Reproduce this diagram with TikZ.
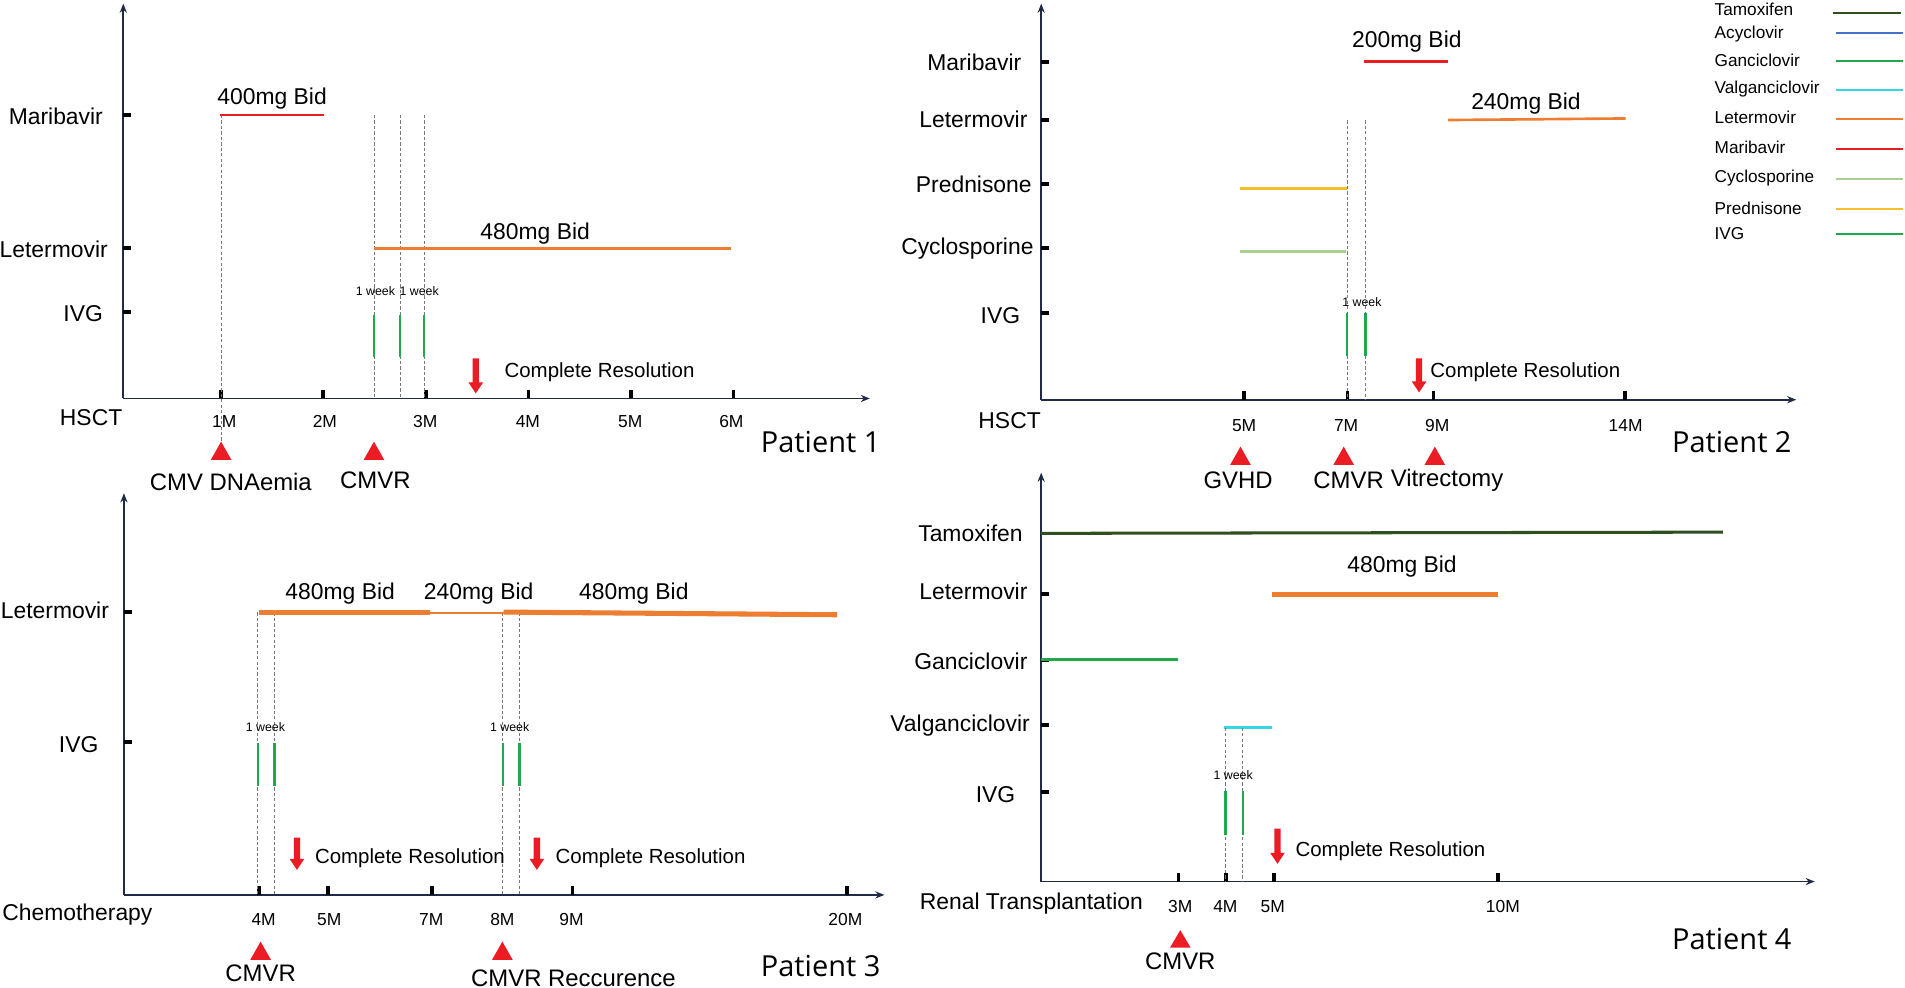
\documentclass[tikz,border=0pt]{standalone}
\usepackage{fontspec}
\setmainfont{Liberation Sans}
\newfontfamily\titlefont{Open Sans}
\usetikzlibrary{arrows.meta}
\definecolor{axiscol}{RGB}{31,42,68}
\definecolor{redc}{RGB}{236,28,36}
\definecolor{orangec}{RGB}{237,125,49}
\definecolor{greenc}{RGB}{34,168,76}
\definecolor{tamc}{RGB}{47,79,30}
\definecolor{cyanc}{RGB}{51,214,228}
\definecolor{lgreenc}{RGB}{169,208,142}
\definecolor{yellowc}{RGB}{246,190,40}
\definecolor{bluec}{RGB}{68,114,196}
\definecolor{dashc}{RGB}{120,120,120}
\tikzset{
  axisline/.style={draw=axiscol,line width=0.9pt,-{Stealth[length=4.5pt,width=3.5pt]}},
  ytk/.style={draw=black,line width=2pt},
  xtk/.style={draw=black,line width=1.7pt},
  guide/.style={draw=dashc,line width=0.4pt,dash pattern=on 1.6pt off 1.1pt},
  ivgbar/.style={draw=greenc,line width=1.1pt},
  lab/.style={font=\fontsize{11.3}{13}\selectfont,inner sep=0pt},
  evlab/.style={font=\fontsize{11.8}{14}\selectfont,inner sep=0pt},
  tklab/.style={font=\fontsize{8.6}{10}\selectfont,inner sep=0pt},
  wk/.style={font=\fontsize{6.1}{7}\selectfont,inner sep=0pt},
  res/.style={font=\fontsize{10.1}{12}\selectfont,inner sep=0pt,anchor=west},
  ptitle/.style={font=\titlefont\fontsize{14.3}{17}\selectfont,inner sep=0pt,anchor=west},
  leg/.style={font=\fontsize{8.5}{10}\selectfont,inner sep=0pt,anchor=west},
  legline/.style={line width=1pt},
}
\newcommand{\evtri}[3]{\fill[redc] (#1-8.5,#2) -- (#1+8.5,#2) -- (#1,#3) -- cycle;}
\newcommand{\resarrow}[3]{\fill[redc] (#1-2.6,#2) -- (#1+2.6,#2) -- (#1+2.6,#3-9) -- (#1+6,#3-9) -- (#1,#3) -- (#1-6,#3-9) -- (#1-2.6,#3-9) -- cycle;}
\begin{document}
\begin{tikzpicture}[x=0.6pt,y=-0.6pt]
\useasboundingbox (0,0) rectangle (1568,813.2);

% ================= Patient 1 =================
\coordinate (p1o) at (101.5,328);
\draw[axisline] (p1o) -- (101.5,3);
\draw[axisline] (p1o) -- (716,328);
\foreach \y in {94.6,204.4,256.5} \draw[ytk] (101.5,\y) -- (108,\y);
\node[lab,anchor=east] (p1mar) at (85,96) {Maribavir};
\node[lab,anchor=east] (p1let) at (89,205) {Letermovir};
\node[lab,anchor=east] (p1ivg) at (85,258) {IVG};
\foreach \x in {182,265.9,350.7,435,519.3,603.6} \draw[xtk] (\x,328) -- (\x,321);
\node[tklab] (p1t1) at (184.6,347) {1M};
\node[tklab] (p1t2) at (267.4,347) {2M};
\node[tklab] (p1t3) at (350,347) {3M};
\node[tklab] (p1t4) at (434.5,347) {4M};
\node[tklab] (p1t5) at (518.8,347) {5M};
\node[tklab] (p1t6) at (602,347) {6M};
\node[lab] (p1h) at (75,344) {HSCT};
% guides
\foreach \x in {307.8,329.2,349.2} \draw[guide] (\x,94.6) -- (\x,328);
\draw[guide] (182,94.6) -- (182,365);
% drugs
\draw[redc,line width=1.3pt] (181,94.6) -- (267,94.6);
\node[lab] (p1d1) at (224,81.5) {400mg Bid};
\draw[orangec,line width=1.3pt] (307.8,204.7) -- (602,204.7);
\node[lab] (p1d2) at (440.5,192) {480mg Bid};
\foreach \x in {307.8,329,349} \draw[ivgbar] (\x,259) -- (\x,293.6);
\node[wk] (p1w1) at (309,240) {1 week};
\node[wk] (p1w2) at (345,240) {1 week};
\resarrow{391.6}{295}{323.8}
\node[res] (p1r) at (415,306.7) {Complete Resolution};
\evtri{182}{378.6}{363.5}
\evtri{307.8}{378.6}{363.5}
\node[evlab] (p1e1) at (190,396.4) {CMV DNAemia};
\node[evlab] (p1e2) at (309,395) {CMVR};
\node[ptitle] (p1n) at (626,363.5) {Patient 1};

% ================= Patient 2 =================
\coordinate (p2o) at (857,329);
\draw[axisline] (p2o) -- (857,3);
\draw[axisline] (p2o) -- (1478.5,329);
\foreach \y in {50.8,98.8,151.7,204.4,257.4} \draw[ytk] (857,\y) -- (863.5,\y);
\node[lab,anchor=east] (p2mar) at (841,51) {Maribavir};
\node[lab,anchor=east] (p2let) at (846,98) {Letermovir};
\node[lab,anchor=east] (p2pre) at (849.5,152) {Prednisone};
\node[lab,anchor=east] (p2cyc) at (851,205) {Cyclosporine};
\node[lab,anchor=east] (p2ivg) at (840,260) {IVG};
\foreach \x in {1024,1109,1180,1337.5} \draw[xtk] (\x,329) -- (\x,322);
\node[tklab] (p2t1) at (1024,350) {5M};
\node[tklab] (p2t2) at (1108,350) {7M};
\node[tklab] (p2t3) at (1183,350) {9M};
\node[tklab] (p2t4) at (1338,350) {14M};
\node[lab] (p2h) at (831,346) {HSCT};
\foreach \x in {1109,1124} \draw[guide] (\x,99) -- (\x,329);
\draw[redc,line width=1.3pt] (1123,50.8) -- (1192,50.8);
\node[lab] (p2d1) at (1158,34) {200mg Bid};
\draw[orangec,line width=1.3pt] (1192,98.8) -- (1338,97.5);
\node[lab] (p2d2) at (1256,85) {240mg Bid};
\draw[yellowc,line width=1.2pt] (1021,155) -- (1109,155);
\draw[lgreenc,line width=1.2pt] (1021,207) -- (1108,207);
\foreach \x in {1109,1124} \draw[ivgbar] (\x,258) -- (\x,293);
\node[wk] (p2w) at (1121,249) {1 week};
\resarrow{1168}{295}{323}
\node[res] (p2r) at (1177,306) {Complete Resolution};
\evtri{1021}{382.7}{367.6}
\evtri{1106}{382.7}{367.6}
\evtri{1181}{382.7}{367.6}
\node[evlab] (p2e1) at (1019,395) {GVHD};
\node[evlab] (p2e2) at (1110,395) {CMVR};
\node[evlab] (p2e3) at (1191,395) {Vitrectomy};
\node[ptitle] (p2n) at (1376,363.5) {Patient 2};

% legend
\foreach \t/\y in {Tamoxifen/8, Acyclovir/28, Ganciclovir/49.5, Valganciclovir/73, Letermovir/97, Maribavir/121, Cyclosporine/146.5, Prednisone/171.5, IVG/192.3}{
  \node[leg] (lg\t) at (1411,\y) {\t};
}
\draw[legline,tamc] (1509,11) -- (1565,11);
\draw[legline,bluec] (1511,27.5) -- (1566,27.5);
\draw[legline,greenc] (1511,50.5) -- (1566,50.5);
\draw[legline,cyanc] (1511,74) -- (1566,74);
\draw[legline,orangec] (1511,98) -- (1566,98);
\draw[legline,redc] (1511,123) -- (1566,123);
\draw[legline,lgreenc] (1511,147) -- (1566,147);
\draw[legline,yellowc] (1511,172) -- (1566,172);
\draw[legline,greenc] (1511,192.6) -- (1566,192.6);

% ================= Patient 3 =================
\coordinate (p3o) at (102,736.6);
\draw[axisline] (p3o) -- (102,406);
\draw[axisline] (p3o) -- (728,736.6);
\foreach \y in {504,610.4} \draw[ytk] (102,\y) -- (108.5,\y);
\node[lab,anchor=east] (p3let) at (90,502) {Letermovir};
\node[lab,anchor=east] (p3ivg) at (81.3,613) {IVG};
\foreach \x in {213,270,355.7,471.4,697.3} \draw[xtk] (\x,736.6) -- (\x,729.6);
\node[tklab] (p3t1) at (217,757) {4M};
\node[tklab] (p3t2) at (271,757) {5M};
\node[tklab] (p3t3) at (355,757) {7M};
\node[tklab] (p3t4) at (413.5,757) {8M};
\node[tklab] (p3t5) at (470.4,757) {9M};
\node[tklab] (p3t6) at (695.8,757) {20M};
\node[lab] (p3h) at (63.7,753) {Chemotherapy};
\foreach \x in {212,226,413.5,427.5} \draw[guide] (\x,504) -- (\x,736.6);
\draw[orangec,line width=2.5pt] (213,504) -- (354,504);
\draw[orangec,line width=1pt] (354,504.6) -- (414.5,504.6);
\draw[orangec,line width=2.5pt] (414.5,503.8) -- (689,506);
\node[lab] (p3d1) at (280,488.3) {480mg Bid};
\node[lab] (p3d2) at (394,488.3) {240mg Bid};
\node[lab] (p3d3) at (521.7,488.3) {480mg Bid};
\foreach \x in {212.5,226,414,427.5} \draw[ivgbar] (\x,611.6) -- (\x,647);
\node[wk] (p3w1) at (218.5,598.5) {1 week};
\node[wk] (p3w2) at (419.5,598.5) {1 week};
\resarrow{244.4}{689.5}{716}
\resarrow{441.9}{689.5}{716}
\node[res] (p3r1) at (259,706) {Complete Resolution};
\node[res] (p3r2) at (457,706) {Complete Resolution};
\evtri{214.5}{790}{775}
\evtri{413.5}{790}{775}
\node[evlab] (p3e1) at (214.5,801) {CMVR};
\node[evlab] (p3e2) at (472,805) {CMVR Reccurence};
\node[ptitle] (p3n) at (626,795) {Patient 3};

% ================= Patient 4 =================
\coordinate (p4o) at (857,725.6);
\draw[axisline] (p4o) -- (857,389);
\draw[axisline] (p4o) -- (1493.7,725.6);
\foreach \y in {489,543.2,597,651.6} \draw[ytk] (857,\y) -- (863.5,\y);
\node[lab,anchor=east] (p4tam) at (842,439) {Tamoxifen};
\node[lab,anchor=east] (p4let) at (846,487) {Letermovir};
\node[lab,anchor=east] (p4gan) at (846,544) {Ganciclovir};
\node[lab,anchor=east] (p4val) at (848,597) {Valganciclovir};
\node[lab,anchor=east] (p4ivg) at (836,654) {IVG};
\foreach \x in {970,1009,1048.5,1233} \draw[xtk] (\x,725.6) -- (\x,718.6);
\node[tklab] (p4t1) at (971.5,746) {3M};
\node[tklab] (p4t2) at (1008.6,746) {4M};
\node[tklab] (p4t3) at (1047.6,746) {5M};
\node[tklab] (p4t4) at (1237,746) {10M};
\node[lab,anchor=east] (p4h) at (941,744) {Renal Transplantation};
\draw[tamc,line width=1.5pt] (857,439) -- (1418,438);
\draw[orangec,line width=2.4pt] (1046.6,489) -- (1233,489);
\node[lab] (p4d1) at (1154,466) {480mg Bid};
\draw[greenc,line width=1.2pt] (857,543) -- (970,543);
\draw[cyanc,line width=1.4pt] (1007.6,599) -- (1046.6,599);
\foreach \x in {1008.6,1023} \draw[guide] (\x,599) -- (\x,725.6);
\foreach \x in {1008.6,1023} \draw[ivgbar] (\x,650.7) -- (\x,687.2);
\node[wk] (p4w) at (1015,638) {1 week};
\resarrow{1051.5}{682}{711}
\node[res] (p4r) at (1066,700.4) {Complete Resolution};
\evtri{971.5}{780}{765.6}
\node[evlab] (p4e1) at (971.5,791.5) {CMVR};
\node[ptitle] (p4n) at (1376,772.5) {Patient 4};
\end{tikzpicture}
\end{document}
